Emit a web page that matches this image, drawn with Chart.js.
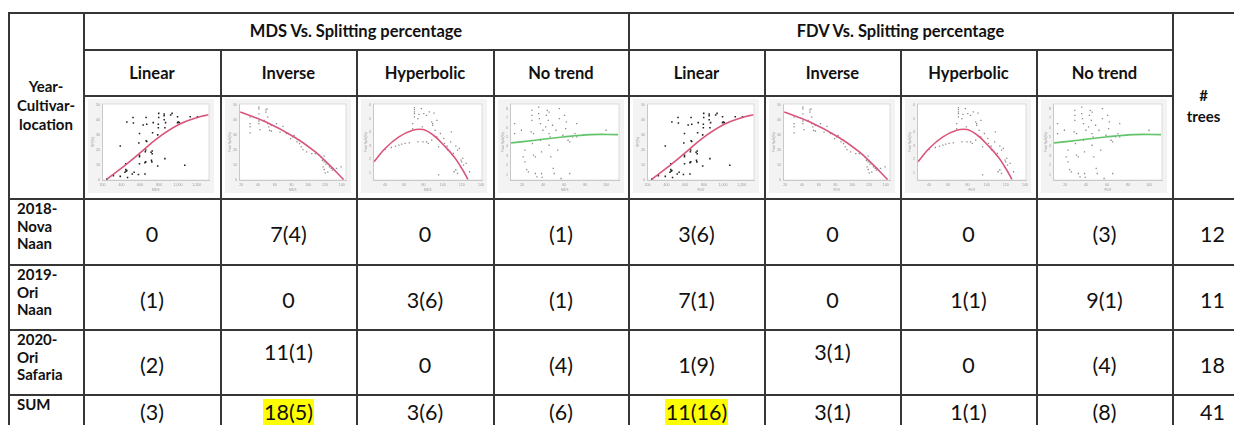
<!DOCTYPE html>
<html>
<head>
<meta charset="utf-8">
<script src="https://cdn.jsdelivr.net/npm/chart.js"></script>
<style>
  html, body { margin: 0; padding: 0; background: #fff; width: 1234px; height: 425px; overflow: hidden; }
  body { font-family: Lato, "Open Sans", sans-serif; color: #111; }
  #sheet { position: relative; width: 1234px; height: 425px; }
  .cell { position: absolute; box-sizing: border-box; border-right: 2px solid #363636; border-bottom: 2px solid #363636;
          display: flex; align-items: center; justify-content: center; text-align: center; white-space: pre-line; }
  .line { position: absolute; background: #363636; }
  .group { font-weight: 700; font-size: 16.5px; }
  .trend { font-weight: 700; font-size: 16.5px; }
  .side { font-weight: 700; font-size: 15px; line-height: 19px; }
  .rowname { font-weight: 700; font-size: 15px; line-height: 17.5px; justify-content: flex-start; align-items: flex-start;
             text-align: left; padding: 1px 0 0 8px; }
  .val { font-size: 21.5px; padding-top: 5px; }
  .hl { background: #ffff00; padding: 0 1px; }
  canvas { position: absolute; }
</style>
</head>
<body>
<div id="sheet"></div>
<script>
// ---- table text ----
const groupTitles = ['MDS Vs. Splitting percentage', 'FDV Vs. Splitting percentage'];
const trendTypes = ['Linear', 'Inverse', 'Hyperbolic', 'No trend'];
const rowLabels = ['2018-\nNova\nNaan', '2019-\nOri\nNaan', '2020-\nOri\nSafaria', 'SUM'];
const mdsCounts = [
  ['0', '7(4)', '0', '(1)'],
  ['(1)', '0', '3(6)', '(1)'],
  ['(2)', '11(1)', '0', '(4)'],
  ['(3)', '18(5)', '3(6)', '(6)']
];
const fdvCounts = [
  ['3(6)', '0', '0', '(3)'],
  ['7(1)', '0', '1(1)', '9(1)'],
  ['1(9)', '3(1)', '0', '(4)'],
  ['11(16)', '3(1)', '1(1)', '(8)']
];
const treeCounts = [12, 11, 18, 41];
const highlighted = ['3-1', '3-4'];   // row-col of the yellow sums
const raised = ['2-1', '2-5'];        // cells written higher in their row

// ---- thumbnail plots ----
const linearPts = [[246,0.7],[315,3.0],[388,2.5],[438,5.3],[446,11.0],[446,7.1],[450,6.0],[458,6.4],[465,1.8],[515,4.1],
  [535,5.3],[581,3.7],[592,11.0],[592,15.6],[592,16.7],[585,24.8],[592,31.2],[631,36.9],[650,4.1],[650,11.7],[658,12.2],
  [654,19.0],[658,20.2],[662,26.4],[669,25.9],[715,18.6],[727,17.7],[727,19.5],[719,13.3],[723,12.2],[785,9.4],[792,35.1],
  [792,37.4],[785,30.3],[796,44.7],[796,42.0],[854,44.3],[854,43.1],[869,38.5],[862,14.4],[923,43.6],[938,44.7],[996,42.4],
  [996,38.5],[1004,39.0],[1015,38.5],[1073,9.9],[1131,42.4],[1208,42.4],[458,39.0],[523,42.0],[527,38.3],[388,22.9],
  [662,42.0],[738,38.5],[731,31.7],[669,37.4],[854,40.4],[862,35.1]];
const linearFit = [[246,0.7],[438,9.9],[592,17.9],[785,28.2],[1015,37.4],[1208,42.0],[1323,43.8]];
const linearXTicks = [200, 400, 600, 800, 1000, 1200];
const linearYTicks = [0, 10, 20, 30, 40, 50];

const inversePts = [[30.5,42.2],[30.5,37.8],[30.5,35.6],[30.5,31.6],[41,48.9],[41,47.8],[41,44.4],[41,39.6],[41,37.8],
  [42.3,33.8],[47.4,40],[49.5,47.1],[49.5,45.6],[50.7,47.8],[51.6,42.2],[51.6,37.8],[52.8,35.6],[53.7,33.3],[55.8,32.9],
  [55.8,36.7],[62.1,37.8],[66.3,32.2],[69.7,36],[73.9,31.1],[78.9,27.8],[81.1,28.9],[83.2,30],[86.5,25.6],[89.5,24.4],
  [89.5,26.7],[91.6,22.2],[93.7,20.4],[97.9,18.9],[104.2,17.8],[108.4,17.8],[112.6,16.7],[114.7,15.6],[116.8,13.3],
  [118.9,12.2],[118.9,16],[117.7,8.9],[118.9,7.1],[121.1,10.7],[125.3,8.9],[127.4,7.8],[128.6,6.7],[133.7,7.8],
  [139.2,8.9],[120.2,4.9],[123.2,5.3]];
const inverseFit = [[18.7,45.6],[49.5,38.9],[83.2,28.9],[108.4,18.9],[125.3,10],[142.1,0.4]];
const inverseXTicks = [20, 40, 60, 80, 100, 120, 140];
const inverseYTicks = [0, 10, 20, 30, 40, 50];

const hyperPts = [[40,2.72],[46.5,2.87],[50.8,2.97],[54.4,3.04],[57.3,3.12],[60.9,3.17],[65.2,3.22],[68.8,4.28],[68.8,4.65],
  [70.6,5.14],[70.6,5.68],[70.6,5.83],[70.6,5.38],[70.6,5.51],[74.2,5.01],[75.3,5.33],[77.8,5.75],[78.8,4.4],[80.3,5.38],
  [83.2,5.26],[86,5.51],[88.6,4.77],[89.6,4.65],[89.6,4.52],[91.1,5.43],[94,4.89],[74.2,3.29],[79.6,3.29],[83.2,3.29],
  [85,3.17],[88.6,3.41],[92.2,4.15],[94,3.66],[95.8,2.92],[97.6,3.91],[101.2,3.54],[101.9,3.17],[104.7,2.97],[105.5,2.67],
  [108.3,3.29],[109.1,4.03],[110.1,2.31],[111.2,2.43],[111.9,1.07],[113.7,2.97],[115.5,2.67],[117.3,2.8],[119.1,1.94],
  [119.9,1.81],[120.9,2.06],[121.7,1.57],[113.7,1.2],[115.5,0.95],[119.1,1.39],[124.5,1.69],[128.1,1.07],[95.8,0.83]];
const hyperFit = [[28.5,1.81],[40,2.8],[54.4,3.66],[68.8,4.15],[79.6,4.2],[90.4,3.78],[101.2,3.04],[111.9,2.18],
  [120.9,1.2],[126.3,0.51]];
const hyperXTicks = [40, 60, 80, 100, 120, 140];
const hyperYTicks = [1, 2, 3, 4, 5, 6];

const flatPts = [[12.8,5.37],[12.8,6.42],[19.3,5.72],[21,2.9],[22.6,3.61],[22.6,2.37],[24.3,1.56],[25.9,1.32],[28.5,5.54],
  [29.2,7.83],[29.2,7.3],[29.2,6.77],[29.8,4.31],[30.8,5.37],[30.8,3.08],[32.5,2.9],[32.5,1.14],[34.1,0.79],[35.7,7.48],
  [35.7,8.18],[36.4,6.95],[37.4,6.42],[37.4,4.66],[38.4,3.43],[38.4,1.14],[39,0.72],[39.7,5.72],[42.3,6.07],[43,7.3],
  [43.9,7.83],[44.9,6.77],[45.6,7.65],[45.6,5.37],[45.6,4.13],[46.6,5.01],[47.2,2.9],[48.9,6.25],[49.5,1.67],[50.5,1.14],
  [52.1,5.72],[53.8,3.61],[55.4,8.01],[55.4,6.95],[57,0.61],[58.7,5.19],[60.3,7.3],[61.3,5.89],[62,6.6],[63.6,4.66],
  [65.2,4.49],[65.2,1.14],[67.9,5.01],[70.2,5.37],[71.8,6.42],[71.8,5.01],[78.4,5.19],[99.7,5.72]];
const flatFit = [[9.5,4.38],[32.5,4.66],[58.7,5.01],[84.9,5.26],[111.1,5.26]];
const flatXTicks = [20, 40, 60, 80, 100];
const flatYTicks = [1, 2, 3, 4, 5, 6, 7, 8];

// one entry per trend column, same order as trendTypes
const plots = [
  { pts: linearPts, fit: linearFit, xt: linearXTicks, yt: linearYTicks, x: [200, 1330], y: [0, 51],
    yTitle: 'SP(%)', fitColor: '#d9567a', dot: '#222', dotR: 1.1 },
  { pts: inversePts, fit: inverseFit, xt: inverseXTicks, yt: inverseYTicks, x: [18, 145], y: [0, 51],
    yTitle: 'Fruit Split(%)', fitColor: '#d9567a', dot: '#888', dotR: 0.9 },
  { pts: hyperPts, fit: hyperFit, xt: hyperXTicks, yt: hyperYTicks, x: [28, 141], y: [0.45, 6.1],
    yTitle: 'Fruit Split(%)', fitColor: '#d9567a', dot: '#888', dotR: 0.9 },
  { pts: flatPts, fit: flatFit, xt: flatXTicks, yt: flatYTicks, x: [9, 112], y: [0.44, 8.5],
    yTitle: 'Fruit Split(%)', fitColor: '#62c46a', dot: '#888', dotR: 0.9 }
];

// ---- grid geometry ----
const colX = [9, 84, 221, 357, 494, 629, 765, 901, 1037, 1173, 1260];
const rowY = [13, 50, 96, 199, 265, 330, 395, 430];

const sheet = document.getElementById('sheet');

function addCell(c0, c1, r0, r1, cls, text) {
  const d = document.createElement('div');
  d.className = 'cell ' + cls;
  d.style.left = colX[c0] + 'px';
  d.style.top = rowY[r0] + 'px';
  d.style.width = (colX[c1] - colX[c0] + 1) + 'px';
  d.style.height = (rowY[r1] - rowY[r0] + 1) + 'px';
  if (text !== undefined) d.textContent = text;
  sheet.appendChild(d);
  return d;
}

function addLine(x, y, w, h) {
  const d = document.createElement('div');
  d.className = 'line';
  Object.assign(d.style, { left: x + 'px', top: y + 'px', width: w + 'px', height: h + 'px' });
  sheet.appendChild(d);
}

addLine(colX[0] - 1, rowY[0] - 1, 2, 440);
addLine(colX[0] - 1, rowY[0] - 1, 1300, 2);

addCell(0, 1, 0, 3, 'side', 'Year-\nCultivar-\nlocation');
addCell(1, 5, 0, 1, 'group', groupTitles[0]);
addCell(5, 9, 0, 1, 'group', groupTitles[1]);
const treesHead = addCell(9, 10, 0, 3, 'side', '#\ntrees');
treesHead.style.borderRight = 'none';
treesHead.style.width = '61px';
treesHead.style.lineHeight = '21px';

for (let g = 0; g < 2; g++) {
  trendTypes.forEach((t, i) => {
    const c = 1 + g * 4 + i;
    addCell(c, c + 1, 1, 2, 'trend', t);
    addCell(c, c + 1, 2, 3, '');
  });
}

// the SUM row runs off the bottom, so its numbers sit a little higher
const lastRow = rowLabels.length - 1;
rowLabels.forEach((label, r) => {
  addCell(0, 1, 3 + r, 4 + r, 'rowname', label);
  const vals = mdsCounts[r].concat(fdvCounts[r]);
  vals.forEach((v, i) => {
    const cell = addCell(1 + i, 2 + i, 3 + r, 4 + r, 'val');
    if (r === lastRow) cell.style.paddingTop = '0';
    const span = document.createElement('span');
    span.textContent = v;
    if (highlighted.includes(r + '-' + i)) span.className = 'hl';
    if (raised.includes(r + '-' + i)) span.style.marginTop = '-26px';
    cell.appendChild(span);
  });
  const tc = addCell(9, 10, 3 + r, 4 + r, 'val', String(treeCounts[r]));
  if (r === lastRow) tc.style.paddingTop = '0';
  tc.style.borderRight = 'none';
  tc.style.width = '61px';
  tc.style.paddingLeft = '18px';
});

// light frame behind each thumbnail, white plot area
const thumbBackground = {
  id: 'thumbBackground',
  beforeDraw(chart) {
    const { ctx, chartArea: a, width, height } = chart;
    ctx.save();
    ctx.fillStyle = '#f3f3f3';
    ctx.fillRect(0, 0, width, height);
    ctx.fillStyle = '#ffffff';
    ctx.fillRect(a.left, a.top, a.right - a.left, a.bottom - a.top);
    ctx.strokeStyle = '#d4d4d4';
    ctx.lineWidth = 0.8;
    ctx.strokeRect(a.left, a.top, a.right - a.left, a.bottom - a.top);
    ctx.restore();
  }
};

function axis(range, ticks, title) {
  return {
    type: 'linear', min: range[0], max: range[1],
    afterBuildTicks: s => { s.ticks = ticks.map(v => ({ value: v })); },
    ticks: { font: { size: 3.6 }, color: '#9a9a9a', padding: 1, maxRotation: 0, autoSkip: false },
    grid: { display: false, tickLength: 1.5, drawOnChartArea: false, color: '#c8c8c8' },
    border: { color: '#c8c8c8' },
    title: { display: true, text: title, font: { size: 3.4 }, color: '#9a9a9a', padding: 0 }
  };
}

const toXY = arr => arr.map(p => ({ x: p[0], y: p[1] }));

function drawThumb(left, top, plot, xName) {
  const cv = document.createElement('canvas');
  cv.width = 126; cv.height = 94;
  cv.style.left = left + 'px';
  cv.style.top = top + 'px';
  sheet.appendChild(cv);
  new Chart(cv, {
    type: 'scatter',
    data: {
      datasets: [
        { type: 'line', data: toXY(plot.fit), borderColor: plot.fitColor, borderWidth: 1.6,
          pointRadius: 0, tension: 0.4, fill: false, order: 0 },
        { data: toXY(plot.pts), backgroundColor: plot.dot, borderColor: plot.dot, borderWidth: 0,
          pointRadius: plot.dotR, pointStyle: 'rect', order: 1 }
      ]
    },
    options: {
      responsive: false, animation: false, devicePixelRatio: 1,
      layout: { padding: { left: 3, right: 5, top: 5, bottom: 1 } },
      plugins: { legend: { display: false }, tooltip: { enabled: false } },
      scales: { x: axis(plot.x, plot.xt, xName), y: axis(plot.y, plot.yt, plot.yTitle) }
    },
    plugins: [thumbBackground]
  });
}

['MDS', 'FDV'].forEach((name, g) => {
  plots.forEach((p, i) => {
    const c = 1 + g * 4 + i;
    drawThumb(colX[c] + 4, rowY[2] + 3, p, name);
  });
});
</script>
</body>
</html>
